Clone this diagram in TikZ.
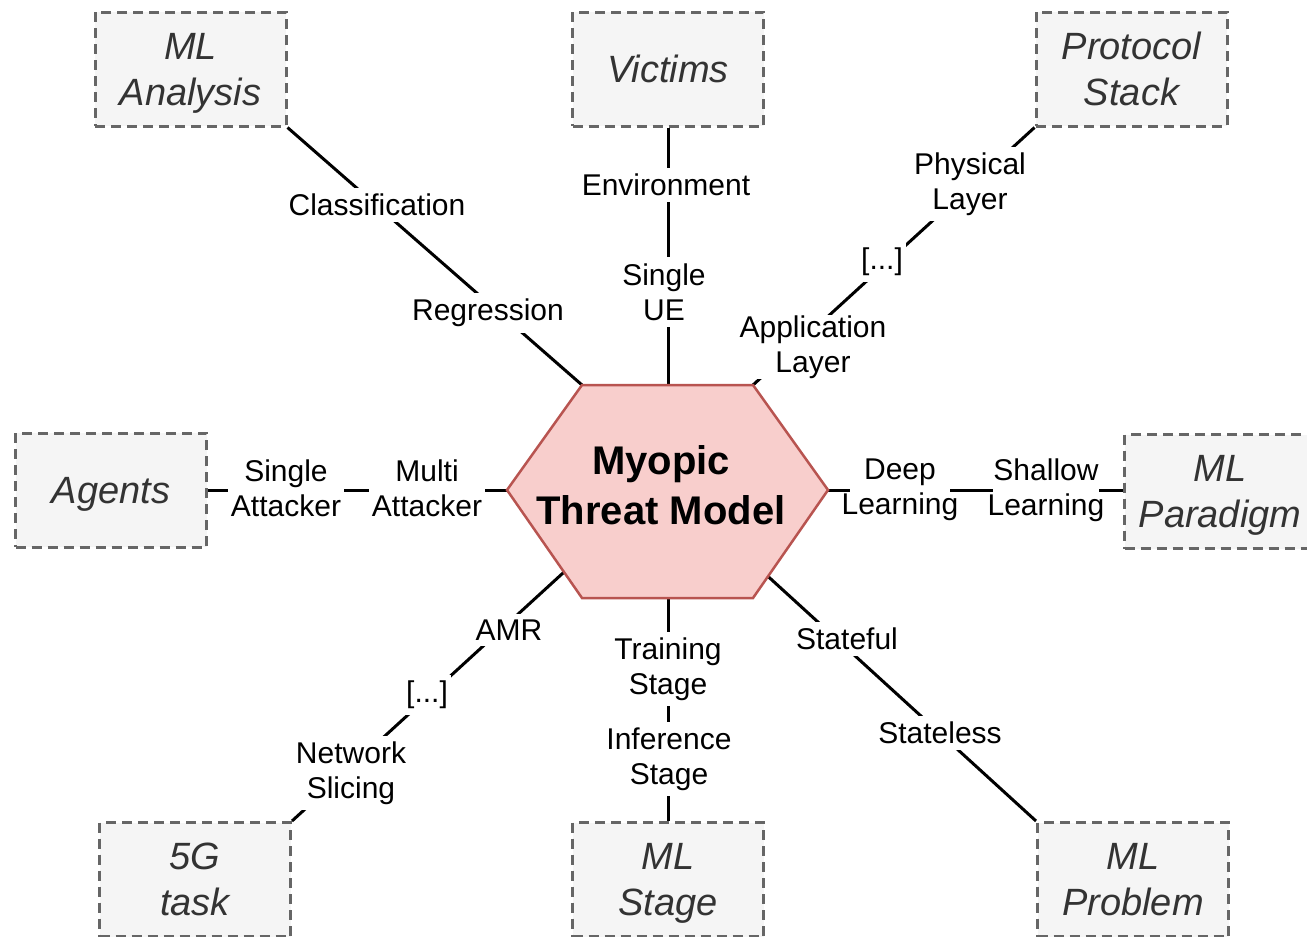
\documentclass[tikz,border=0pt]{standalone}
\usepackage{fontspec}
\setmainfont{Liberation Sans}
\usetikzlibrary{calc}
\definecolor{hexfill}{HTML}{F8CECC}
\definecolor{hexline}{HTML}{B85450}
\definecolor{boxfill}{HTML}{F5F5F5}
\definecolor{boxline}{HTML}{666666}
\definecolor{boxtext}{HTML}{333333}
\newcommand{\mytstrut}{\rule{0pt}{36pt}}
\newcommand{\mybstrut}{\rule[-9.6pt]{0pt}{9.6pt}}
\tikzset{
  box/.style={draw=boxline, fill=boxfill, dash pattern=on 10pt off 6pt, line width=3pt,
    minimum width=191pt, minimum height=114pt, inner sep=0pt, align=center,
    font=\fontsize{38}{45.6}\selectfont\itshape, text=boxtext},
  lbl/.style={fill=white, inner xsep=3pt, inner ysep=6pt, align=center,
    font=\fontsize{30}{35}\selectfont},
  conn/.style={line width=3pt, draw=black},
  hexst/.style={fill=hexfill, draw=hexline, line width=2.5pt, line join=miter},
  hextext/.style={align=center, font=\fontsize{40}{50}\selectfont\bfseries}
}
\begin{document}
\begin{tikzpicture}[x=1pt,y=-1pt]
\useasboundingbox (0,0) rectangle (1307,937);
% boxes
\node[box] (mla) at (190.5,69) {\mytstrut ML\\Analysis\mybstrut};
\node[box] (vic) at (668,69) {\mytstrut Victims\mybstrut};
\node[box] (ps) at (1131.5,69) {\mytstrut Protocol\\Stack\mybstrut};
\node[box] (ag) at (111,490) {\mytstrut Agents\mybstrut};
\node[box] (mlp) at (1220,491.5) {\mytstrut ML\\Paradigm\mybstrut};
\node[box] (g5) at (195,879.5) {\mytstrut 5G\\task\mybstrut};
\node[box] (mls) at (668,879.5) {\mytstrut ML\\Stage\mybstrut};
\node[box] (mlpr) at (1133,879.5) {\mytstrut ML\\Problem\mybstrut};
% hexagon corners
\coordinate (hl) at (507,490);
\coordinate (htl) at (582,385);
\coordinate (htr) at (753,385);
\coordinate (hr) at (828,490);
\coordinate (hbr) at (753,598);
\coordinate (hbl) at (582,598);
\coordinate (ht) at (668,385);
\coordinate (hb) at (668,598);
\coordinate (hll) at ($(hl)!0.76!(hbl)$);
\coordinate (hlr) at ($(hr)!0.8!(hbr)$);
% connectors
\draw[conn] (mla.south east) -- (htl);
\draw[conn] (vic.south) -- (ht);
\draw[conn] (ps.south west) -- (htr);
\draw[conn] (ag.east) -- (hl);
\draw[conn] (hr) -- (hr -| mlp.west);
\draw[conn] (hll) -- (g5.north east);
\draw[conn] (hb) -- (mls.north);
\draw[conn] (hlr) -- (mlpr.north west);
% hexagon
\draw[hexst] (hl) -- (htl) -- (htr) -- (hr) -- (hbr) -- (hbl) -- cycle;
\node[hextext] (hx) at (661,485) {Myopic\\Threat Model};
% labels
\node[lbl] (l1) at (377,205) {Classification};
\node[lbl] (l2) at (488,313) {Regression};
\node[lbl] (l3) at (666,185) {Environment};
\node[lbl] (l4) at (664,292) {Single\\UE};
\node[lbl] (l5) at (970,184) {Physical\\Layer};
\node[lbl] (l6) at (882,262) {[...]};
\node[lbl, inner ysep=1pt] (l7) at (813,347) {Application\\Layer};
\node[lbl] (l8) at (286,488) {Single\\Attacker};
\node[lbl] (l9) at (427,488) {Multi\\Attacker};
\node[lbl, inner xsep=-8pt] (l10) at (900,490) {Deep\\Learning};
\node[lbl, inner xsep=-5pt] (l11) at (1046,490) {Shallow\\Learning};
\node[lbl] (l12) at (509,630) {AMR};
\node[lbl] (l13) at (427,695) {[...]};
\node[lbl] (l14) at (351,773) {Network\\Slicing};
\node[lbl] (l15) at (668,669) {Training\\Stage};
\node[lbl] (l16) at (669,759) {Inference\\Stage};
\node[lbl] (l17) at (847,639) {Stateful};
\node[lbl] (l18) at (940,733) {Stateless};
\end{tikzpicture}
\end{document}
